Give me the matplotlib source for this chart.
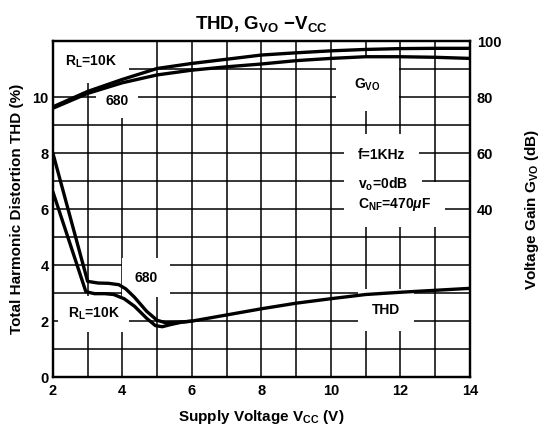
import matplotlib
matplotlib.use('Agg')
import matplotlib.pyplot as plt
from matplotlib.ticker import MultipleLocator

# --- data ---
vcc_gain = [2, 3, 4, 5, 6, 7, 8, 9, 10, 11, 12, 13, 14]
gain_10k = [76.5, 82.0, 86.3, 90.2, 92.0, 93.5, 95.0, 95.8, 96.5, 97.0, 97.3, 97.4, 97.4]
gain_680 = [76.0, 81.3, 85.1, 87.9, 89.6, 90.8, 91.8, 93.0, 93.8, 94.4, 94.4, 94.2, 93.8]

vcc_thd_680 = [2.0, 3.0, 3.3, 3.6, 3.9, 4.1, 4.35, 4.7, 5.0, 5.25, 5.6, 6.0]
thd_680 = [8.0, 3.42, 3.36, 3.35, 3.3, 3.15, 2.85, 2.35, 2.03, 1.94, 1.96, 2.0]
vcc_thd_10k = [2.0, 2.95, 3.2, 3.5, 3.75, 4.05, 4.35, 4.7, 4.95, 5.15, 5.4, 5.7, 6.0]
thd_10k = [6.62, 3.05, 2.98, 2.98, 2.95, 2.8, 2.53, 2.1, 1.84, 1.8, 1.88, 1.96, 2.0]
vcc_tail = [6, 7, 8, 9, 10, 11, 12, 13, 14]
thd_tail = [2.0, 2.22, 2.44, 2.64, 2.8, 2.95, 3.03, 3.1, 3.17]

plt.rcParams['font.family'] = ['Liberation Sans', 'DejaVu Sans']
plt.rcParams['font.weight'] = 'bold'
plt.rcParams['axes.labelweight'] = 'bold'
plt.rcParams['axes.titleweight'] = 'bold'
plt.rcParams['mathtext.fontset'] = 'custom'
plt.rcParams['mathtext.rm'] = 'Liberation Sans:bold'
plt.rcParams['mathtext.bf'] = 'Liberation Sans:bold'
plt.rcParams['mathtext.it'] = 'Liberation Sans:italic:bold'

fig = plt.figure(figsize=(5.45, 4.32), dpi=100)
ax = fig.add_axes([0.097, 0.127, 0.765, 0.778])
ax2 = ax.twinx()

lw = 2.4
kw = dict(color='black', lw=lw, solid_joinstyle='round', solid_capstyle='round', zorder=4)
ax.plot(vcc_thd_680, thd_680, **kw)
ax.plot(vcc_thd_10k, thd_10k, **kw)
ax.plot(vcc_tail, thd_tail, **kw)
ax2.plot(vcc_gain, gain_10k, **kw)
ax2.plot(vcc_gain, gain_680, **kw)

ax.set_xlim(2, 14)
ax.set_ylim(0, 12)
ax2.set_ylim(-20, 100)
ax.set_xticks(range(2, 15, 2))
ax.xaxis.set_minor_locator(MultipleLocator(1))
ax.set_yticks(range(0, 11, 2))
ax.yaxis.set_minor_locator(MultipleLocator(1))
ax2.set_yticks([40, 60, 80, 100])

ax.set_axisbelow(True)
ax.grid(True, which='both', color='black', lw=1.1)
ax.tick_params(which='both', length=0, labelsize=10.5, pad=3)
ax.tick_params(axis='x', pad=5)
ax2.tick_params(length=0, labelsize=10.5, pad=5)
for a in (ax, ax2):
    for s in a.spines.values():
        s.set_linewidth(1.6)
        s.set_color('black')

ax.set_title(r'THD, G$_{\mathrm{VO}}$ $-$V$_{\mathrm{CC}}$', fontsize=13.5, pad=9)
ax.set_xlabel(r'Supply Voltage V$_{\mathrm{CC}}$ (V)', fontsize=11, labelpad=7)
ax.set_ylabel('Total Harmonic Distortion THD (%)', fontsize=11, labelpad=6)
ax2.set_ylabel(r'Voltage Gain G$_{\mathrm{VO}}$ (dB)', fontsize=11, labelpad=16)


# labels with white backing (the scan has the grid broken around them);
# backing drawn first so neighbouring boxes never hide another label
def label(x, y, s, pad=0.6, ha='center'):
    ax.text(x, y, s, ha=ha, va='center', fontsize=10, color='white', zorder=2.5,
            bbox=dict(boxstyle=f'square,pad={pad}', facecolor='white', edgecolor='none'))
    ax.text(x, y, s, ha=ha, va='center', fontsize=10, color='black', zorder=3)


label(2.35, 11.25, r'R$_{\mathrm{L}}$=10K', pad=0.9, ha='left')
label(3.85, 9.86, '680', pad=0.7)
label(11.06, 10.45, r'G$_{\mathrm{VO}}$', pad=1.3)
label(10.78, 7.93, 'f=1KHz', pad=1.0, ha='left')
label(10.78, 6.9, r'v$_{\mathrm{o}}$=0dB', pad=1.0, ha='left')
label(10.78, 6.15, r'C$_{\mathrm{NF}}$=470$\mu$F', pad=1.0, ha='left')
label(4.69, 3.55, '680', pad=0.9)
label(2.43, 2.25, r'R$_{\mathrm{L}}$=10K', pad=0.7, ha='left')
label(11.6, 2.39, 'THD', pad=1.0)

fig.savefig('out.png', dpi=100)
